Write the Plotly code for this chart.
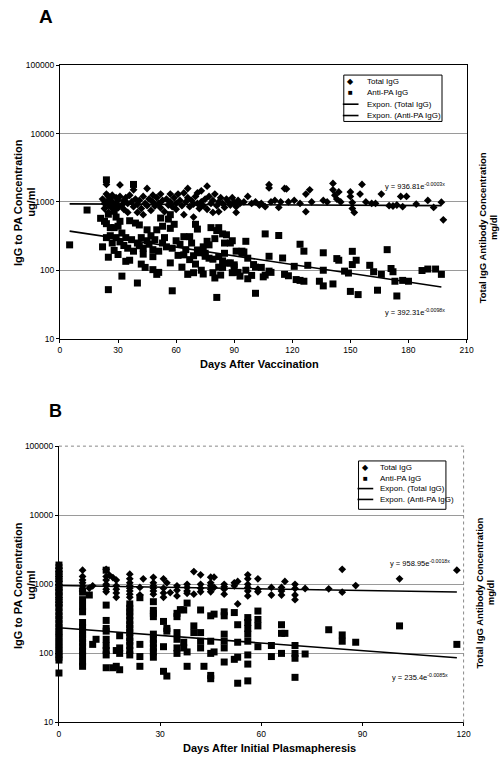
import numpy as np
import plotly.graph_objects as go

# ---------------- Panel A data (Days After Vaccination) ----------------
A_total_days = [22, 23, 23, 24, 24, 24, 25, 25, 25, 26, 26, 27, 27, 28, 28, 29, 29, 30, 30, 31, 31, 32, 33, 33,
                34, 35, 35, 36, 37, 38, 38, 39, 40, 40, 41, 42, 43, 43, 44, 45, 45, 46, 47, 48, 48, 49, 50, 51,
                52, 52, 53, 54, 55, 56, 57, 57, 58, 59, 60, 60, 61, 62, 63, 64, 64, 65, 66, 66, 67, 68, 69, 69,
                70, 71, 71, 72, 73, 73, 74, 75, 76, 76, 77, 78, 79, 79, 80, 81, 82, 82, 83, 84, 85, 86, 87, 88,
                89, 90, 91, 91, 92, 93, 95, 97, 99, 101, 103, 104, 106, 108, 108, 109, 111, 113, 114, 116, 117,
                118, 121, 124, 127, 127, 129, 130, 136, 138, 141, 141, 142, 143, 144, 145, 150, 150, 151, 151,
                152, 155, 156, 158, 161, 163, 166, 170, 172, 174, 176, 177, 179, 184, 190, 193, 197, 198]
A_total_vals = [1100, 950, 800, 1800, 1300, 1000, 1200, 900, 700, 1100, 850, 1000, 1250, 900, 750, 1150, 950,
                1050, 820, 1770, 1200, 900, 1050, 780, 1150, 950, 700, 1250, 1000, 850, 1500, 1100, 920, 700,
                1050, 800, 1200, 650, 950, 1570, 880, 1100, 750, 1000, 1250, 870, 1150, 950, 1300, 820, 1050,
                720, 1100, 900, 1300, 1000, 850, 1150, 950, 780, 1300, 1050, 880, 1350, 650, 1000, 1570, 1150,
                850, 1050, 930, 600, 1200, 1350, 950, 800, 1450, 1000, 880, 1100, 1700, 780, 1200, 950, 700,
                1050, 1300, 880, 1000, 720, 1150, 950, 830, 1100, 1000, 900, 1150, 980, 850, 700, 1050, 950,
                1000, 1200, 950, 1000, 900, 950, 850, 1780, 1600, 1000, 1050, 830, 1000, 1570, 1550, 1000,
                1050, 950, 1300, 720, 1500, 1000, 1050, 1000, 1860, 1500, 1250, 1100, 1400, 1000, 1400, 1200,
                980, 800, 700, 1300, 1800, 1000, 950, 950, 1300, 880, 870, 900, 1200, 850, 1200, 930, 1050,
                830, 990, 546]

A_anti_days = [5, 14, 21, 22, 23, 24, 24, 24, 25, 25, 25, 26, 26, 27, 28, 28, 28, 29, 29, 29, 30, 30, 31, 31,
               32, 32, 33, 34, 34, 35, 36, 36, 37, 38, 38, 39, 40, 40, 41, 41, 42, 42, 43, 43, 44, 45, 45, 46,
               47, 48, 48, 48, 49, 50, 50, 51, 51, 52, 53, 53, 54, 55, 56, 57, 57, 57, 58, 58, 59, 60, 61, 62,
               63, 64, 64, 65, 66, 67, 67, 68, 69, 69, 70, 70, 71, 71, 72, 73, 74, 74, 75, 75, 76, 77, 77, 78,
               79, 79, 80, 80, 81, 81, 82, 82, 82, 83, 84, 84, 84, 85, 85, 86, 87, 88, 88, 89, 89, 90, 90, 91,
               92, 93, 94, 94, 95, 96, 96, 97, 97, 99, 100, 101, 101, 104, 105, 106, 106, 108, 108, 109, 113,
               115, 116, 118, 121, 122, 124, 124, 126, 126, 128, 134, 136, 136, 136, 141, 143, 144, 147, 149,
               150, 151, 151, 153, 154, 160, 162, 164, 166, 169, 171, 172, 173, 174, 177, 180, 187, 190, 194, 197]
A_anti_vals = [235, 760, 575, 220, 520, 2100, 480, 300, 660, 155, 52, 320, 420, 250, 730, 420, 195, 850, 600,
               300, 440, 170, 520, 260, 350, 82, 230, 300, 135, 210, 530, 140, 280, 1800, 190, 490, 250, 65, 460,
               228, 300, 123, 210, 172, 110, 390, 270, 240, 320, 200, 158, 102, 280, 390, 87, 190, 93, 580, 440,
               250, 300, 220, 560, 650, 410, 128, 210, 50, 470, 270, 165, 240, 111, 310, 168, 200, 87, 310, 143,
               250, 163, 92, 470, 123, 400, 198, 180, 100, 220, 88, 160, 177, 265, 235, 150, 420, 145, 92, 290,
               77, 40, 380, 111, 420, 158, 85, 340, 137, 110, 250, 177, 330, 127, 250, 128, 270, 92, 120, 112,
               190, 93, 82, 190, 177, 185, 265, 100, 150, 75, 84, 121, 111, 46, 110, 80, 340, 85, 160, 97, 93,
               322, 151, 87, 83, 114, 73, 240, 71, 190, 69, 118, 69, 59, 100, 180, 63, 148, 140, 97, 91, 49, 121,
               189, 140, 44, 118, 95, 51, 87, 200, 106, 95, 69, 42, 71, 69, 99, 104, 104, 87]

A_fit_total = (936.81, -0.0003)
A_fit_anti = (392.31, -0.0098)
A_fit_span = (5, 197)
A_xticks = [0, 30, 60, 90, 120, 150, 180, 210]

# ---------------- Panel B data (Days After Initial Plasmapheresis) ----------------
B_total_days = [0, 7, 9, 10, 14, 15, 16, 17, 21, 24, 25, 28, 31, 32, 33, 35, 38, 40, 42, 45, 46, 49, 52, 53,
                56, 59, 63, 66, 67, 70, 73, 80, 84, 88, 101, 118]
B_total_vals = [[1900, 1700, 1550, 1400, 1300, 1200, 1100, 1000, 950, 900, 850, 800, 750, 700, 650, 600, 550, 500],
                [1600, 1300, 1150, 1050, 950, 880, 800],
                [880], [950],
                [1650, 1300, 1150, 1000, 950, 850, 780],
                [1350], [1250],
                [1150, 950, 850, 750, 650],
                [1400, 1200, 1050, 950, 880, 800, 720, 650],
                [900, 700], [1200],
                [1260, 1050, 950, 880, 800, 720],
                [1200, 880, 750, 650], [1050], [760],
                [950, 820, 680],
                [1000, 900, 800, 740],
                [1530, 720],
                [1370, 1000, 880, 780],
                [1270, 1050, 950, 850, 780],
                [1270, 900],
                [1000, 920, 850, 720],
                [950, 1050],
                [1100, 520],
                [1370, 1200, 1000, 900, 800, 680],
                [1200, 850, 780],
                [900, 700],
                [900, 800, 700], [1100],
                [1000, 870, 700, 600],
                [870], [860], [1650, 770], [960], [1200], [1600]]

B_anti_days = [0, 7, 9, 10, 11, 14, 16, 17, 18, 21, 24, 28, 31, 32, 35, 36, 37, 38, 40, 42, 43, 45, 46, 49, 52,
               53, 56, 59, 63, 66, 67, 70, 73, 80, 84, 88, 101, 118]
B_anti_vals = [[1900, 1600, 1400, 1200, 1050, 900, 780, 680, 590, 520, 460, 400, 350, 310, 270, 240, 210, 190,
                170, 150, 135, 120, 108, 97, 88, 80, 52],
               [770, 600, 480, 400, 280, 240, 210, 185, 165, 145, 125, 108, 92, 75, 65],
               [700], [135], [160],
               [1600, 500, 300, 230, 210, 160, 130, 110, 95, 62],
               [62], [110, 65],
               [180, 120, 100, 58],
               [520, 450, 400, 350, 300, 260, 230, 200, 170, 150, 130, 110, 95],
               [640, 135, 90, 65],
               [560, 420, 380, 340, 190, 160, 140, 120, 105, 88],
               [290, 125, 55], [230, 210, 47],
               [380, 340, 200, 160, 120, 100],
               [430], [145, 120, 425],
               [535, 105, 65], [250, 200],
               [425, 200, 150, 120], [65],
               [350, 150, 100, 48, 43], [370, 105],
               [400, 350, 190, 150, 120, 75],
               [390, 82], [260, 145, 88, 37],
               [330, 280, 230, 190, 150, 95, 70, 40],
               [410, 310, 250, 125],
               [130, 90], [260, 195, 100], [195],
               [130, 100, 85, 45], [98], [220], [185, 150], [145], [250], [135]]

B_fit_total = (958.95, -0.0018)
B_fit_anti = (235.4, -0.0085)
B_fit_span = (0, 118)
B_xticks = [0, 30, 60, 90, 120]

y_ticks = [10, 100, 1000, 10000, 100000]
y_ticktext = ["10", "100", "1000", "10000", "100000"]


def expand(days, groups):
    xs, ys = [], []
    for d, g in zip(days, groups):
        for v in g:
            xs.append(d)
            ys.append(v)
    return xs, ys


B_total_x, B_total_y = expand(B_total_days, B_total_vals)
B_anti_x, B_anti_y = expand(B_anti_days, B_anti_vals)

W, H = 504, 763
def PX(p):
    return p / W
def PY(p):
    return 1 - p / H

FONT = "Liberation Sans, Arial, sans-serif"

fig = go.Figure()


def add_panel(fig, xa, ya, tx, ty, ax, ay, fit_t, fit_a, span):
    fig.add_trace(go.Scatter(x=tx, y=ty, mode="markers", xaxis=xa, yaxis=ya, cliponaxis=False,
                             marker=dict(symbol="diamond", size=6, color="black", line=dict(width=0)),
                             name="Total IgG", showlegend=False))
    fig.add_trace(go.Scatter(x=ax, y=ay, mode="markers", xaxis=xa, yaxis=ya, cliponaxis=False,
                             marker=dict(symbol="square", size=7, color="black", line=dict(width=0)),
                             name="Anti-PA IgG", showlegend=False))
    fx = np.linspace(span[0], span[1], 80)
    fig.add_trace(go.Scatter(x=fx, y=fit_t[0] * np.exp(fit_t[1] * fx), mode="lines", xaxis=xa, yaxis=ya,
                             line=dict(color="black", width=1.6), name="Expon. (Total IgG)", showlegend=False))
    fig.add_trace(go.Scatter(x=fx, y=fit_a[0] * np.exp(fit_a[1] * fx), mode="lines", xaxis=xa, yaxis=ya,
                             line=dict(color="black", width=1.6), name="Expon. (Anti-PA IgG)", showlegend=False))


add_panel(fig, "x", "y", A_total_days, A_total_vals, A_anti_days, A_anti_vals, A_fit_total, A_fit_anti, A_fit_span)
add_panel(fig, "x2", "y2", B_total_x, B_total_y, B_anti_x, B_anti_y, B_fit_total, B_fit_anti, B_fit_span)

common_x = dict(showline=True, linecolor="black", linewidth=1, ticks="outside", ticklen=3, tickcolor="black",
                tickfont=dict(size=8.5, family=FONT, color="black"), showgrid=False, zeroline=False)
common_y = dict(type="log", range=[1, 5], tickvals=y_ticks, ticktext=y_ticktext, showline=True,
                linecolor="black", linewidth=1, ticks="outside", ticklen=3, tickcolor="black",
                tickfont=dict(size=8.5, family=FONT, color="black"), showgrid=True, gridcolor="#9a9a9a",
                gridwidth=1, zeroline=False)

fig.update_layout(
    width=W, height=H, margin=dict(l=0, r=0, t=0, b=0),
    paper_bgcolor="white", plot_bgcolor="white", showlegend=False,
    font=dict(family=FONT, color="black"),
    xaxis=dict(domain=[PX(59), PX(473)], anchor="y", range=[0, 210], tickvals=A_xticks, mirror=True, **common_x),
    yaxis=dict(domain=[PY(338), PY(61)], anchor="x", mirror=True, **common_y),
    xaxis2=dict(domain=[PX(58), PX(470)], anchor="y2", range=[0, 120], tickvals=B_xticks, **common_x),
    yaxis2=dict(domain=[PY(727), PY(447)], anchor="x2", **common_y),
)

shapes = []
# Panel B top/right frame (light dotted)
shapes.append(dict(type="line", xref="paper", yref="paper", x0=PX(58), x1=PX(470), y0=PY(447), y1=PY(447),
                   line=dict(color="#888", width=1, dash="dot")))
shapes.append(dict(type="line", xref="paper", yref="paper", x0=PX(470), x1=PX(470), y0=PY(727), y1=PY(447),
                   line=dict(color="#888", width=1, dash="dot")))

annotations = []


def ann(text, x, y, size, bold=False, angle=0, xanchor="center", yanchor="middle"):
    annotations.append(dict(text=("<b>%s</b>" % text) if bold else text, x=PX(x), y=PY(y), xref="paper",
                            yref="paper", showarrow=False, textangle=angle, xanchor=xanchor, yanchor=yanchor,
                            font=dict(size=size, family=FONT, color="black")))


def legend(box, rows, sym_x, text_x):
    x0, y0, x1, y1 = box
    shapes.append(dict(type="rect", xref="paper", yref="paper", x0=PX(x0), x1=PX(x1), y0=PY(y1), y1=PY(y0),
                       line=dict(color="black", width=1), fillcolor="white", layer="above"))
    labels = ["Total IgG", "Anti-PA IgG", "Expon. (Total IgG)", "Expon. (Anti-PA IgG)"]
    syms = ["\u25C6", "\u25A0", None, None]
    for lab, sy, ry in zip(labels, syms, rows):
        if sy:
            ann(sy, sym_x, ry, 8)
        else:
            shapes.append(dict(type="line", xref="paper", yref="paper", x0=PX(sym_x - 8), x1=PX(sym_x + 8),
                               y0=PY(ry), y1=PY(ry), line=dict(color="black", width=1.6), layer="above"))
        ann(lab, text_x, ry, 8, xanchor="left")


# Panel letters
ann("A", 45, 12, 19, bold=True)
ann("B", 54, 411, 18, bold=True)

# Panel A labels
ann("IgG to PA Concentration", 17, 200, 11, bold=True, angle=-90)
ann("ug/ml", 30, 200, 11, bold=True, angle=-90)
ann("Total IgG Antibody Concentration", 489, 226, 9.5, bold=True, angle=-90)
ann("mg/dl", 500, 226, 9.5, bold=True, angle=-90)
ann("Days After Vaccination", 262, 364, 11, bold=True)
ann("y = 936.81e<sup>-0.0003x</sup>", 421, 183, 7.5)
ann("y = 392.31e<sup>-0.0098x</sup>", 421, 311, 7.5)
legend((348, 71, 448, 118), [77.5, 89, 100.5, 112], 355, 370)

# Panel B labels
ann("IgG to PA Concentration", 17, 588, 11, bold=True, angle=-90)
ann("ug/ml", 30, 588, 11, bold=True, angle=-90)
ann("Total IgG Antibody Concentration", 486, 596, 9.5, bold=True, angle=-90)
ann("mg/dl", 497, 596, 9.5, bold=True, angle=-90)
ann("Days After Initial Plasmapheresis", 272, 753, 11, bold=True)
ann("y = 958.95e<sup>-0.0018x</sup>", 426, 565, 7.5)
ann("y = 235.4e<sup>-0.0085x</sup>", 426, 681, 7.5)
legend((363, 462, 452, 511), [469, 479.5, 490, 501], 370, 383)

fig.update_layout(shapes=shapes, annotations=annotations)
fig.write_html("out.html", config={"displayModeBar": False})

# remove the default page margin so the figure sits at the window's top-left corner
with open("out.html", "r", encoding="utf-8") as f:
    html = f.read()
html = html.replace("<head>", "<head><style>html,body{margin:0;padding:0;overflow:hidden;}</style>", 1)
with open("out.html", "w", encoding="utf-8") as f:
    f.write(html)
